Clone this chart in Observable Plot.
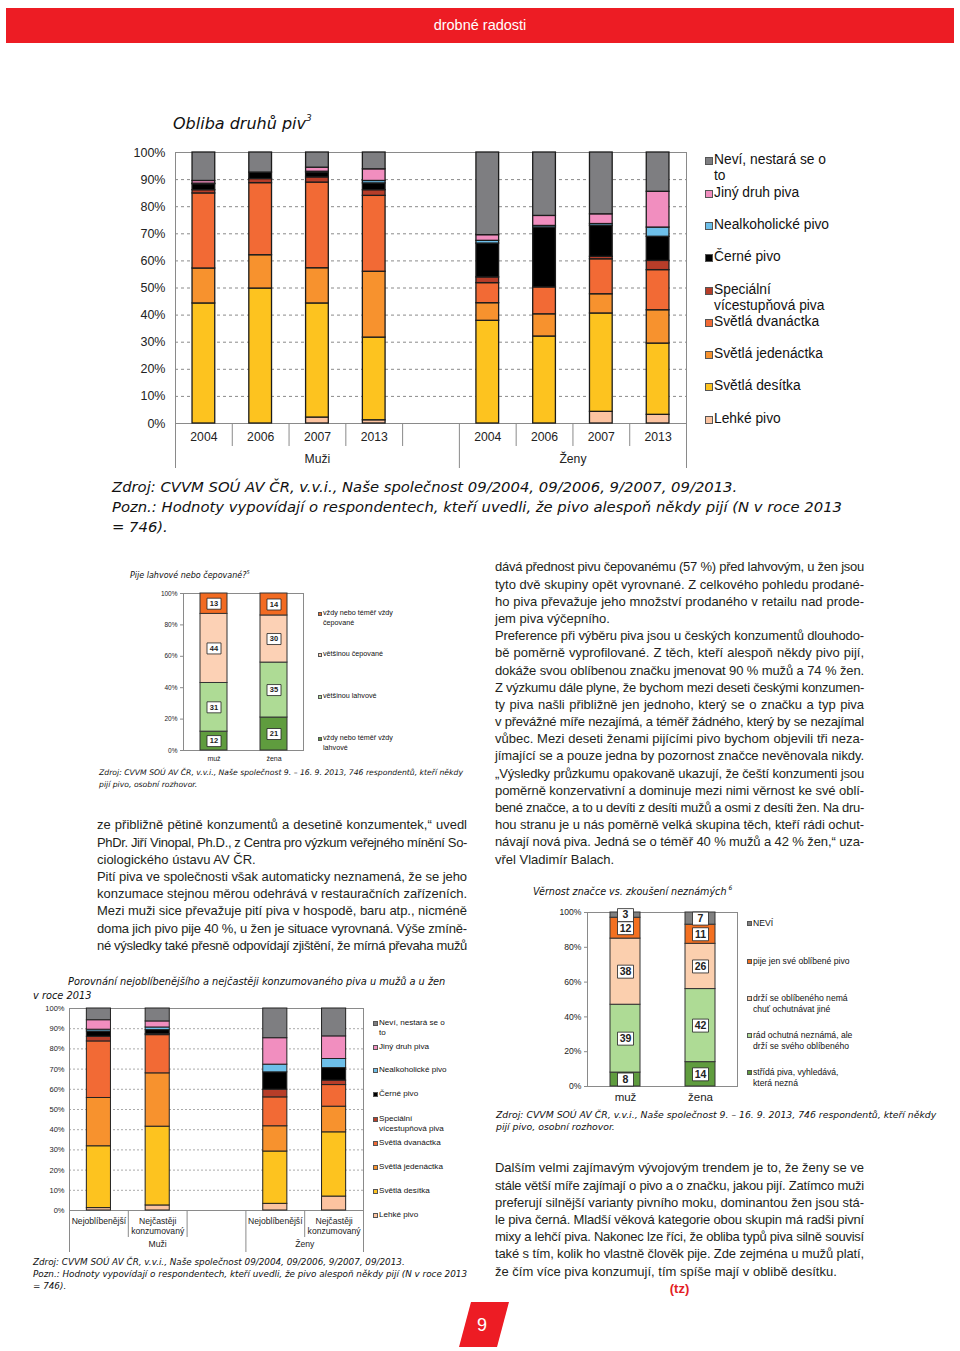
<!DOCTYPE html>
<html lang="cs">
<head>
<meta charset="utf-8">
<script src="https://cdn.jsdelivr.net/npm/d3@7"></script>
<script src="https://cdn.jsdelivr.net/npm/@observablehq/plot@0.6"></script>
<style>
html,body{margin:0;padding:0;background:#fff;}
#page{position:relative;width:960px;height:1351px;overflow:hidden;font-family:"Liberation Sans",Arial,Helvetica,sans-serif;color:#231f20;}
.a{position:absolute;white-space:nowrap;}
.it{font-family:"DejaVu Sans",Verdana,sans-serif;font-style:italic;color:#111;}
.leg{position:absolute;white-space:nowrap;font-family:"Liberation Sans",Arial,sans-serif;color:#111;}
.leg .sw{position:absolute;left:0;box-sizing:border-box;border:1px solid #555;}
.plot{position:absolute;}
.plot svg{overflow:visible;display:block;}
.col{position:absolute;font-size:13px;line-height:17.2px;color:#231f20;}
.col div{white-space:nowrap;height:17.2px;}
</style>
</head>
<body>
<div id="page"></div>
<script>
// ---------------- DATA ----------------
const beerTypes = ["Lehké pivo","Světlá desítka","Světlá jedenáctka","Světlá dvanáctka","Speciální vícestupňová piva","Černé pivo","Nealkoholické pivo","Jiný druh piva","Neví, nestará se o to"];
const beerColors = ["#fcc3a0","#fdc31f","#f7922e","#f26a35","#b73d29","#000000","#6dbfe9","#f18ebf","#7e7e81"];
const beerLegendLabels = ["Neví, nestará se o\nto","Jiný druh piva","Nealkoholické pivo","Černé pivo","Speciální\nvícestupňová piva","Světlá dvanáctka","Světlá jedenáctka","Světlá desítka","Lehké pivo"];
const years = ["2004","2006","2007","2013"];
const groupLabels = ["Muži","Ženy"];
// values per bar, in the order of beerTypes (bottom to top), %
const men2004 = [0,44.3,12.9,27.7,1.2,2.2,0.2,1.0,10.5];
const men2006 = [0,49.8,12.3,26.6,1.5,2.4,0,0,7.4];
const men2007 = [2.2,42.1,13.0,31.6,1.9,1.8,0.3,1.5,5.6];
const men2013 = [1.2,30.5,24.3,28.0,2.1,2.5,0.9,4.3,6.2];
const women2004 = [0,37.9,6.5,7.4,2.1,12.5,1.0,2.1,30.5];
const women2006 = [0,32.1,8.2,9.9,0,22.1,0.6,3.7,23.4];
const women2007 = [4.3,36.3,7.1,12.9,0.9,11.4,0.7,3.6,22.8];
const women2013 = [3.2,26.3,12.3,14.8,3.4,8.9,3.4,13.2,14.5];

// comparison chart (2013)
const compareLabels = ["Nejoblíbenější","Nejčastěji\nkonzumovaný"];
const menFavourite = [1.2,30.6,23.9,28.0,2.3,2.6,0.9,4.7,5.8];
const menFrequent = [2.5,39.0,26.4,18.9,0.5,2.0,1.3,3.0,6.4];
const womenFavourite = [3.3,25.9,12.5,14.3,3.8,8.6,3.8,13.1,14.7];
const womenFrequent = [6.9,31.8,12.7,10.7,2.2,6.2,4.5,11.2,13.8];

// bottle vs draught
const sexes = ["muž","žena"];
const servingTypes = ["vždy nebo téměř vždy lahvové","většinou lahvové","většinou čepované","vždy nebo téměř vždy čepované"];
const servingColors = ["#5f9c3e","#aedb95","#fcd1b5","#f26b22"];
const servingLegendLabels = ["vždy nebo téměř vždy\nčepované","většinou čepované","většinou lahvové","vždy nebo téměř vždy\nlahvové"];
const servingMuz = [12,31,44,13];
const servingZena = [21,35,30,14];

// brand loyalty
const loyaltyTypes = ["střídá piva, vyhledává, která nezná","rád ochutná neznámá, ale drží se svého oblíbeného","drží se oblíbeného nemá chuť ochutnávat jiné","pije jen své oblíbené pivo","NEVÍ"];
const loyaltyColors = ["#5f9c3e","#aedb95","#fbcfae","#f37021","#808080"];
const loyaltyLegendLabels = ["NEVÍ","pije jen své oblíbené pivo","drží se oblíbeného nemá\nchuť ochutnávat jiné","rád ochutná neznámá, ale\ndrží se svého oblíbeného","střídá piva, vyhledává,\nkterá nezná"];
const loyaltyMuz = [8,39,38,12,3];
const loyaltyZena = [14,42,26,11,7];

const pctTicks10 = [0,10,20,30,40,50,60,70,80,90,100];
const pctTicks20 = [0,20,40,60,80,100];

// ---------------- TEXT ----------------
const rightLines = [
"dává přednost pivu čepovanému (57 %) před lahvovým, u žen jsou",
"tyto dvě skupiny opět vyrovnané. Z celkového pohledu prodané-",
"ho piva převažuje jeho množství prodaného v retailu nad prode-",
"jem piva výčepního.",
"Preference při výběru piva jsou u českých konzumentů dlouhodo-",
"bě poměrně vyprofilované. Z těch, kteří alespoň někdy pivo pijí,",
"dokáže svou oblíbenou značku jmenovat 90 % mužů a 74 % žen.",
"Z výzkumu dále plyne, že bychom mezi deseti českými konzumen-",
"ty piva našli přibližně jen jednoho, který se o značku a typ piva",
"v převážné míře nezajímá, a téměř žádného, který by se nezajímal",
"vůbec. Mezi deseti ženami pijícími pivo bychom objevili tři neza-",
"jímající se a pouze jedna by pozornost značce nevěnovala nikdy.",
"„Výsledky průzkumu opakovaně ukazují, že čeští konzumenti jsou",
"poměrně konzervativní a dominuje mezi nimi věrnost ke své oblí-",
"bené značce, a to u devíti z desíti mužů a osmi z desíti žen. Na dru-",
"hou stranu je u nás poměrně velká skupina těch, kteří rádi ochut-",
"návají nová piva. Jedná se o téměř 40 % mužů a 42 % žen,“ uza-",
"vřel Vladimír Balach."];
const rightLast = [3,17];
const leftLines = [
"ze přibližně pětině konzumentů a desetině konzumentek,“ uvedl",
"PhDr. Jiří Vinopal, Ph.D., z Centra pro výzkum veřejného mínění So-",
"ciologického ústavu AV ČR.",
"Pití piva ve společnosti však automaticky neznamená, že se jeho",
"konzumace stejnou měrou odehrává v restauračních zařízeních.",
"Mezi muži sice převažuje pití piva v hospodě, baru atp., nicméně",
"doma jich pivo pije 40 %, u žen je situace vyrovnaná. Výše zmíně-",
"né výsledky také přesně odpovídají zjištění, že mírná převaha mužů"];
const leftLast = [2];
const bottomLines = [
"Dalším velmi zajímavým vývojovým trendem je to, že ženy se ve",
"stále větší míře zajímají o pivo a o značku, jakou pijí. Zatímco muži",
"preferují silnější varianty pivního moku, dominantou žen jsou stá-",
"le piva černá. Mladší věková kategorie obou skupin má radši pivní",
"mixy a lehčí piva. Nakonec lze říci, že obliba typů piva silně souvisí",
"také s tím, kolik ho vlastně člověk pije. Zde zejména u mužů platí,",
"že čím více piva konzumují, tím spíše mají v oblibě desítku."];
const bottomLast = [6];

// ---------------- HELPERS ----------------
const page = document.getElementById("page");
function el(cls, left, top, html, css) {
  const d = document.createElement("div");
  d.className = cls;
  d.style.left = left + "px"; d.style.top = top + "px";
  if (css) Object.assign(d.style, css);
  d.innerHTML = html;
  page.appendChild(d);
  return d;
}
function place(svg, left, top) {
  const d = el("plot", left, top, "");
  d.appendChild(svg);
}
function stackRows(bars, cats) {
  const rows = [];
  bars.forEach(b => {
    let acc = 0;
    b.values.forEach((v, j) => {
      if (v > 0) rows.push({key: b.key, cat: cats[j], value: v, y1: acc, y2: acc + v, mid: acc + v / 2});
      acc += v;
    });
  });
  return rows;
}
function legend(left, tops, labels, colors, fs, lh, box) {
  labels.forEach((lab, i) => {
    const d = el("leg", left, tops[i] - lh / 2, "", {fontSize: fs + "px", lineHeight: lh + "px", paddingLeft: (box + 1) + "px"});
    const sw = document.createElement("span");
    sw.className = "sw";
    Object.assign(sw.style, {width: box + "px", height: box + "px", top: ((lh - box) / 2 + 0.5) + "px", background: colors[i]});
    d.appendChild(sw);
    const t = document.createElement("span");
    t.innerHTML = lab.replace(/\n/g, "<br>");
    d.appendChild(t);
  });
}
function column(left, top, width, lines, last) {
  const col = el("col", left, top, "", {width: width + "px"});
  lines.forEach((t, i) => {
    const d = document.createElement("div");
    const s = document.createElement("span");
    s.textContent = t;
    d.appendChild(s);
    col.appendChild(d);
    let w = s.getBoundingClientRect().width;
    if (w > width) {
      s.style.letterSpacing = ((width - w) / t.length) + "px";
      w = s.getBoundingClientRect().width;
    }
    if (!last.includes(i)) {
      const n = (t.match(/ /g) || []).length;
      if (n) s.style.wordSpacing = ((width - w) / n) + "px";
    }
  });
  return col;
}
const rectSymbol = (hw, hh) => ({draw(ctx) { ctx.rect(-hw, -hh, 2 * hw, 2 * hh); }});
const AX = "#8a8a8a";

// ---------------- HEADER / FOOTER ----------------
el("a", 6, 8, "drobné radosti", {width: "948px", height: "35px", background: "#ed1c24", color: "#fff", textAlign: "center", lineHeight: "35px", fontSize: "14.5px"});
el("a", 459, 1302, "", {width: "50px", height: "45px", background: "#ed1c24", clipPath: "polygon(24% 0, 100% 0, 76% 100%, 0 100%)"});
el("a", 457, 1303, "9", {width: "50px", height: "45px", color: "#fff", textAlign: "center", lineHeight: "45px", fontSize: "18px"});

// ---------------- MAIN CHART ----------------
el("a it", 173, 113, "Obliba druhů piv<sup style='font-size:9px;vertical-align:8px'>3</sup>", {fontSize: "16px"});
{
  const nY = years.length;
  const men = [men2004, men2006, men2007, men2013];
  const women = [women2004, women2006, women2007, women2013];
  const bars = [
    ...men.map((v, i) => ({key: i, label: years[i], values: v})),
    ...women.map((v, i) => ({key: nY + 1 + i, label: years[i], values: v}))
  ];
  const groups = [
    {label: groupLabels[0], from: -0.5, to: nY + 0.5},
    {label: groupLabels[1], from: nY + 0.5, to: 2 * nY + 0.5}
  ].map(g => ({...g, center: (g.from + g.to) / 2}));
  const edges = [groups[0].from, groups[1].to];
  const midSeps = [groups[0].to];
  const shortSeps = bars.map(b => b.key + 0.5).filter(x => !edges.includes(x) && !midSeps.includes(x));
  const rows = stackRows(bars, beerTypes);
  const H = 340, mT = 12, mB = 57, plotH = H - mT - mB;
  const svg = Plot.plot({
    width: 600, height: H, marginLeft: 75, marginRight: 14, marginTop: mT, marginBottom: mB,
    x: {domain: [-0.5, 2 * nY + 0.5], axis: null},
    y: {domain: [0, 100], axis: null},
    color: {domain: beerTypes, range: beerColors},
    style: {fontFamily: "Liberation Sans, Arial, sans-serif", fontSize: "12px", color: "#222", background: "transparent"},
    marks: [
      Plot.ruleY(pctTicks10.filter(t => t > 0 && t < 100), {stroke: AX, strokeDasharray: "3,3"}),
      Plot.ruleY([0, 100], {stroke: AX}),
      Plot.ruleX(shortSeps, {stroke: AX, insetTop: plotH, insetBottom: -23}),
      Plot.ruleX(midSeps, {stroke: AX, insetTop: plotH, insetBottom: -45}),
      Plot.ruleX(edges, {stroke: AX, insetBottom: -45}),
      Plot.rect(rows, {x1: d => d.key - 0.2, x2: d => d.key + 0.2, y1: "y1", y2: "y2", fill: "cat", stroke: "#1c1c1c", strokeWidth: 1.3}),
      Plot.axisY({ticks: pctTicks10, tickFormat: d => d + "%", tickSize: 0, tickPadding: 10, fontSize: 12.5}),
      Plot.text(bars, {x: "key", text: "label", frameAnchor: "bottom", dy: 17, fontSize: 12.2}),
      Plot.text(groups, {x: "center", text: "label", frameAnchor: "bottom", dy: 39, fontSize: 12.2})
    ]
  });
  place(svg, 100, 140);
  legend(705, [160, 193, 225, 257, 290, 322, 354, 386, 419], beerLegendLabels, beerColors.slice().reverse(), 13.8, 16.5, 8);
}
el("a it", 112, 477, "Zdroj: CVVM SOÚ AV ČR, v.v.i., Naše společnost 09/2004, 09/2006, 9/2007, 09/2013.<br>Pozn.: Hodnoty vypovídají o respondentech, kteří uvedli, že pivo alespoň někdy pijí (N v roce 2013<br>= 746).", {fontSize: "14.8px", lineHeight: "20px"});

// ---------------- CHART: lahvové / čepované ----------------
el("a it", 130, 569, "Pije lahvové nebo čepované?<sup style='font-size:5px;vertical-align:4px'>5</sup>", {fontSize: "8px"});
{
  const bars = [{key: sexes[0], values: servingMuz}, {key: sexes[1], values: servingZena}];
  const rows = stackRows(bars, servingTypes);
  const svg = Plot.plot({
    width: 230, height: 185, marginLeft: 88, marginRight: 22, marginTop: 8, marginBottom: 20,
    x: {domain: sexes, paddingInner: 0.55, paddingOuter: 0.275, axis: null},
    y: {domain: [0, 100], axis: null},
    color: {domain: servingTypes, range: servingColors},
    style: {fontFamily: "Liberation Sans, Arial, sans-serif", fontSize: "7px", color: "#222", background: "transparent"},
    marks: [
      Plot.frame({stroke: AX}),
      Plot.barY(rows, {x: "key", y1: "y1", y2: "y2", fill: "cat", stroke: "#333", strokeWidth: 1}),
      Plot.dot(rows, {x: "key", y: "mid", symbol: rectSymbol(7, 5.5), fill: "white", stroke: "#222", strokeWidth: 0.8}),
      Plot.text(rows, {x: "key", y: "mid", text: "value", fontWeight: "bold", fontSize: 7.5}),
      Plot.axisY({ticks: pctTicks20, tickFormat: d => d + "%", tickSize: 3, stroke: AX, tickPadding: 3, fontSize: 6.5, label: null}),
      Plot.axisX({tickSize: 0, tickPadding: 6, fontSize: 7, label: null})
    ]
  });
  place(svg, 95, 585);
  legend(318, [613, 654, 696, 738], servingLegendLabels, servingColors.slice().reverse(), 7.2, 9.5, 4);
}
el("a it", 99, 767, "Zdroj: CVVM SOÚ AV ČR, v.v.i., Naše společnost 9. – 16. 9. 2013, 746 respondentů, kteří někdy<br>pijí pivo, osobní rozhovor.", {fontSize: "7.7px", lineHeight: "12px"});

// ---------------- CHART: věrnost značce ----------------
el("a it", 533, 884, "Věrnost značce vs. zkoušení neznámých<sup style='font-size:6px;vertical-align:5px'> 6</sup>", {fontSize: "9.6px"});
{
  const bars = [{key: sexes[0], values: loyaltyMuz}, {key: sexes[1], values: loyaltyZena}];
  const rows = stackRows(bars, loyaltyTypes);
  const svg = Plot.plot({
    width: 215, height: 210, marginLeft: 57, marginRight: 8, marginTop: 12, marginBottom: 24,
    x: {domain: sexes, paddingInner: 0.6, paddingOuter: 0.3, axis: null},
    y: {domain: [0, 100], axis: null},
    color: {domain: loyaltyTypes, range: loyaltyColors},
    style: {fontFamily: "Liberation Sans, Arial, sans-serif", fontSize: "9px", color: "#222", background: "transparent"},
    marks: [
      Plot.frame({stroke: AX}),
      Plot.barY(rows, {x: "key", y1: "y1", y2: "y2", fill: "cat", stroke: "#333", strokeWidth: 1}),
      Plot.dot(rows, {x: "key", y: "mid", symbol: rectSymbol(8, 6.5), fill: "white", stroke: "#222", strokeWidth: 0.8}),
      Plot.text(rows, {x: "key", y: "mid", text: "value", fontWeight: "bold", fontSize: 10.5}),
      Plot.axisY({ticks: pctTicks20, tickFormat: d => d + "%", tickSize: 3, stroke: AX, tickPadding: 3, fontSize: 8.6, label: null}),
      Plot.axisX({tickSize: 0, tickPadding: 6, fontSize: 11.5, label: null})
    ]
  });
  place(svg, 530, 900);
  legend(747, [923, 961, 998, 1035, 1072], loyaltyLegendLabels, loyaltyColors.slice().reverse(), 8.6, 11, 5);
}
el("a it", 496, 1109, "Zdroj: CVVM SOÚ AV ČR, v.v.i., Naše společnost 9. – 16. 9. 2013, 746 respondentů, kteří někdy<br>pijí pivo, osobní rozhovor.", {fontSize: "9.3px", lineHeight: "12px"});

// ---------------- CHART: porovnání ----------------
el("a it", 33, 975, "<span style='padding-left:35px'>Porovnání nejoblíbenějšího a nejčastěji konzumovaného piva u mužů a u žen</span><br>v roce 2013", {fontSize: "9.8px", lineHeight: "14px"});
{
  const nC = compareLabels.length;
  const bars = [
    {key: 0, label: compareLabels[0], values: menFavourite},
    {key: 1, label: compareLabels[1], values: menFrequent},
    {key: nC + 1, label: compareLabels[0], values: womenFavourite},
    {key: nC + 2, label: compareLabels[1], values: womenFrequent}
  ];
  const groups = [
    {label: groupLabels[0], from: -0.5, to: nC + 0.5},
    {label: groupLabels[1], from: nC + 0.5, to: 2 * nC + 0.5}
  ].map(g => ({...g, center: (g.from + g.to) / 2}));
  const edges = [groups[0].from, groups[1].to];
  const midSeps = [groups[0].to];
  const shortSeps = bars.map(b => b.key + 0.5).filter(x => !edges.includes(x) && !midSeps.includes(x));
  const rows = stackRows(bars, beerTypes);
  const H = 260, mT = 8, mB = 50, plotH = H - mT - mB;
  const svg = Plot.plot({
    width: 340, height: H, marginLeft: 39, marginRight: 7, marginTop: mT, marginBottom: mB,
    x: {domain: [-0.5, 2 * nC + 0.5], axis: null},
    y: {domain: [0, 100], axis: null},
    color: {domain: beerTypes, range: beerColors},
    style: {fontFamily: "Liberation Sans, Arial, sans-serif", fontSize: "8px", color: "#222", background: "transparent"},
    marks: [
      Plot.ruleY(pctTicks10.filter(t => t > 0 && t < 100), {stroke: "#aaa", strokeDasharray: "2,2"}),
      Plot.ruleY([0, 100], {stroke: AX}),
      Plot.ruleX(shortSeps, {stroke: AX, insetTop: plotH, insetBottom: -27}),
      Plot.ruleX(midSeps, {stroke: AX, insetTop: plotH, insetBottom: -42}),
      Plot.ruleX(edges, {stroke: AX, insetBottom: -42}),
      Plot.rect(rows, {x1: d => d.key - 0.205, x2: d => d.key + 0.205, y1: "y1", y2: "y2", fill: "cat", stroke: "#222", strokeWidth: 1}),
      Plot.axisY({ticks: pctTicks10, tickFormat: d => d + "%", tickSize: 0, tickPadding: 5, fontSize: 7.5}),
      Plot.text(bars, {x: "key", text: "label", frameAnchor: "bottom", dy: 6, lineAnchor: "top", lineHeight: 1.18, fontSize: 8.6}),
      Plot.text(groups, {x: "center", text: "label", frameAnchor: "bottom", dy: 36, fontSize: 8.6})
    ]
  });
  place(svg, 30, 1000);
  legend(373, [1023, 1047, 1070, 1094, 1119, 1143, 1167, 1191, 1215], beerLegendLabels, beerColors.slice().reverse(), 8.1, 10.5, 5);
}
el("a it", 33, 1256, "Zdroj: CVVM SOÚ AV ČR, v.v.i., Naše společnost 09/2004, 09/2006, 9/2007, 09/2013.<br>Pozn.: Hodnoty vypovídají o respondentech, kteří uvedli, že pivo alespoň někdy pijí (N v roce 2013<br>= 746).", {fontSize: "8.8px", lineHeight: "12px"});

// ---------------- TEXT COLUMNS ----------------
column(495, 558.4, 369, rightLines, rightLast);
column(97, 816.4, 370, leftLines, leftLast);
column(495, 1159.4, 369, bottomLines, bottomLast);
el("a", 495, 1279.5, "(tz)", {width: "369px", textAlign: "center", color: "#e31e24", fontWeight: "bold", fontSize: "13px", lineHeight: "17px"});
</script>
</body>
</html>
